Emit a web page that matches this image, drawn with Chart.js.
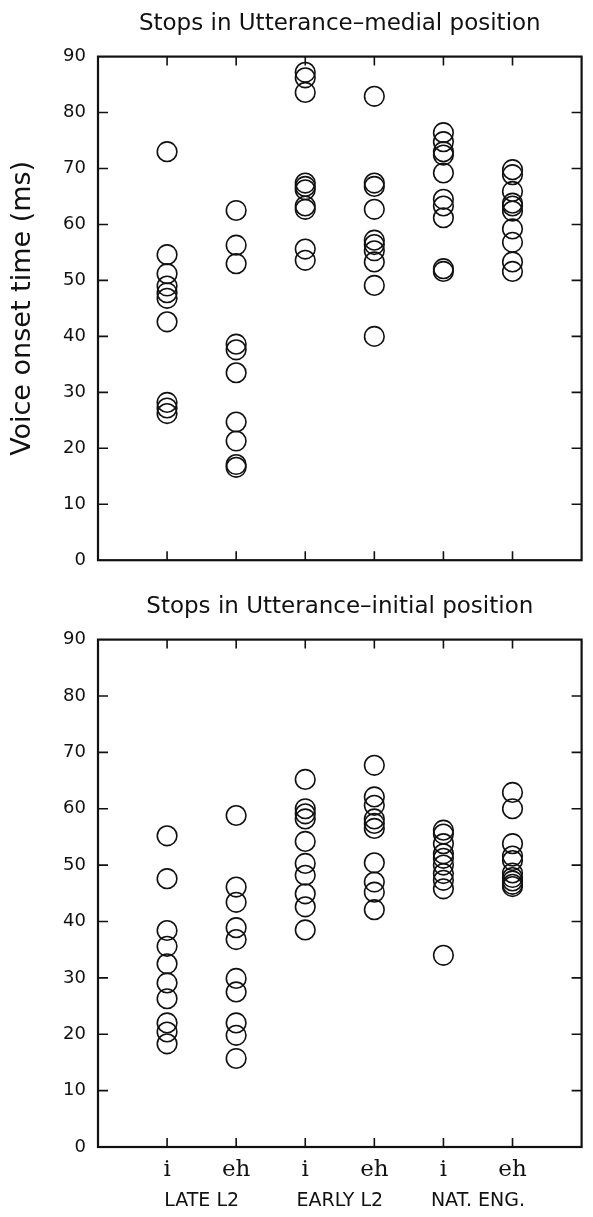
<!DOCTYPE html>
<html>
<head>
<meta charset="utf-8">
<title>Voice onset time</title>
<script src="https://cdn.jsdelivr.net/npm/chart.js@4.4.1/dist/chart.umd.min.js"></script>
<style>
	body { margin: 0; background: #fff; }
	#wrap { position: relative; width: 593px; height: 1217px; }
	canvas { position: absolute; left: 0; }
	#medial { top: 0; }
	#initial { top: 583px; }
</style>
</head>
<body>
<div id="wrap">
	<canvas id="medial" width="593" height="583"></canvas>
	<canvas id="initial" width="593" height="634"></canvas>
</div>
<script>

var categories = ['i', 'eh', 'i', 'eh', 'i', 'eh'];
var groups = ['LATE L2', 'EARLY L2', 'NAT. ENG.'];
var yTicks = [0, 10, 20, 30, 40, 50, 60, 70, 80, 90];

// utterance-medial stops (ms)
var medialLateI   = [73.0, 54.6, 51.2, 49.0, 47.8, 46.8, 42.6, 28.2, 27.2, 26.2];
var medialLateEh  = [62.5, 56.3, 53.0, 38.6, 37.6, 33.5, 24.7, 21.3, 17.1, 16.6];
var medialEarlyI  = [87.2, 86.2, 83.6, 67.4, 66.8, 66.2, 63.3, 62.7, 55.6, 53.6];
var medialEarlyEh = [82.9, 67.4, 66.8, 62.7, 57.2, 56.4, 55.3, 53.3, 49.1, 40.0];
var medialNatI    = [76.4, 74.8, 73.0, 72.4, 69.2, 64.5, 63.3, 61.2, 52.1, 51.6];
var medialNatEh   = [69.8, 68.9, 65.9, 63.8, 63.3, 62.4, 59.2, 56.8, 53.3, 51.6];

// utterance-initial stops (ms)
var initialLateI   = [55.2, 47.6, 38.4, 35.6, 32.5, 29.1, 26.3, 22.0, 20.4, 18.3];
var initialLateEh  = [58.8, 46.1, 43.4, 38.9, 36.8, 29.9, 27.5, 22.0, 19.8, 15.7];
var initialEarlyI  = [65.2, 60.0, 59.1, 58.2, 54.2, 50.3, 48.2, 44.9, 42.6, 38.5];
var initialEarlyEh = [67.7, 62.1, 60.6, 58.2, 57.4, 56.5, 50.4, 47.0, 45.2, 42.1];
var initialNatI    = [56.2, 55.5, 53.8, 52.0, 51.2, 50.0, 48.5, 47.3, 45.8, 34.0];
var initialNatEh   = [62.9, 60.0, 53.8, 51.6, 50.8, 48.6, 47.8, 47.2, 46.6, 46.2];

var ink = '#111';

// box round the plot with inward ticks on all four sides
var framePlugin = {
	id: 'frame',
	afterDatasetsDraw: function(chart) {
		var ctx = chart.ctx;
		var a = chart.chartArea;
		var xs = chart.scales.x;
		var ys = chart.scales.y;

		ctx.save();
		ctx.strokeStyle = ink;
		ctx.lineWidth = 1.6;
		ctx.beginPath();
		for (var i = 0; i < categories.length; i++) {
			var px = xs.getPixelForValue(i + 1);
			ctx.moveTo(px, a.top);
			ctx.lineTo(px, a.top + 9);
			ctx.moveTo(px, a.bottom);
			ctx.lineTo(px, a.bottom - 9);
		}
		for (var j = 1; j < yTicks.length - 1; j++) {
			var py = ys.getPixelForValue(yTicks[j]);
			ctx.moveTo(a.left, py);
			ctx.lineTo(a.left + 10, py);
			ctx.moveTo(a.right, py);
			ctx.lineTo(a.right - 10, py);
		}
		ctx.stroke();
		ctx.lineWidth = 2.2;
		ctx.strokeRect(a.left, a.top, a.right - a.left, a.bottom - a.top);
		ctx.restore();
	}
};


function toPoints(columns){
	var pts = [];
	for (var i = 0; i < columns.length; i++) {
		for (var k = 0; k < columns[i].length; k++) {
			pts.push({x: i + 1, y: columns[i][k]});
		}
	}
	return pts;
}


function makePanel(id, titleText, columns, bottomPanel){

	var scales = {
		x: {
			type: 'linear',
			min: 0,
			max: 7,
			position: 'bottom',
			weight: 0,
			grid: {display: false, drawTicks: false},
			border: {display: false},
			afterBuildTicks: function(axis) {
				axis.ticks = categories.map(function(c, i){ return {value: i + 1}; });
			},
			afterFit: function(axis) { axis.height = bottomPanel ? 36 : 19; },
			ticks: {
				display: bottomPanel,
				autoSkip: false,
				maxRotation: 0,
				padding: 9,
				color: ink,
				font: {family: 'DejaVu Serif', size: 23},
				callback: function(v, index) { return categories[index]; }
			}
		},
		y: {
			type: 'linear',
			min: 0,
			max: 90,
			position: 'left',
			grid: {display: false, drawTicks: false},
			border: {display: false},
			afterBuildTicks: function(axis) {
				axis.ticks = yTicks.map(function(v){ return {value: v}; });
			},
			afterFit: function(axis) { axis.width = 98; },
			ticks: {
				padding: 12,
				color: ink,
				font: {family: 'DejaVu Sans', size: 18}
			},
			title: {
				display: !bottomPanel,
				text: 'Voice onset time (ms)',
				color: ink,
				font: {family: 'DejaVu Sans', size: 27},
				padding: {top: 7, bottom: 0}
			}
		}
	};

	if (bottomPanel) {
		scales.x2 = {
			type: 'linear',
			min: 0,
			max: 7,
			position: 'bottom',
			weight: 1,
			grid: {display: false, drawTicks: false},
			border: {display: false},
			afterBuildTicks: function(axis) {
				axis.ticks = groups.map(function(g, i){ return {value: i * 2 + 1.5}; });
			},
			afterFit: function(axis) { axis.height = 34; },
			ticks: {
				autoSkip: false,
				maxRotation: 0,
				padding: 7,
				color: ink,
				font: {family: 'DejaVu Sans', size: 19},
				callback: function(v, index) { return groups[index]; }
			}
		};
	}

	new Chart(document.getElementById(id), {
		type: 'scatter',
		data: {
			datasets: [
			{
				data: toPoints(columns),
				pointStyle: 'circle',
				pointRadius: 9.8,
				pointHoverRadius: 9.8,
				borderWidth: 1.6,
				borderColor: ink,
				backgroundColor: 'rgba(0,0,0,0)',
				clip: false
			}
			]
		},
		options: {
			responsive: false,
			animation: false,
			events: [],
			layout: {padding: {left: 0, right: 0, top: 0, bottom: 0}},
			scales: scales,
			plugins: {
				legend: {display: false},
				tooltip: {enabled: false},
				title: {
					display: true,
					text: titleText,
					fullSize: false,
					color: ink,
					font: {family: 'DejaVu Sans', size: 23, weight: 'normal'},
					padding: {top: 10, bottom: 19}
				}
			}
		},
		plugins: [framePlugin]
	});
}


window.onload = function(){

	makePanel('medial', 'Stops in Utterance\u2013medial position',
		[medialLateI, medialLateEh, medialEarlyI, medialEarlyEh, medialNatI, medialNatEh], false);

	makePanel('initial', 'Stops in Utterance\u2013initial position',
		[initialLateI, initialLateEh, initialEarlyI, initialEarlyEh, initialNatI, initialNatEh], true);

}

</script>
</body>
</html>
